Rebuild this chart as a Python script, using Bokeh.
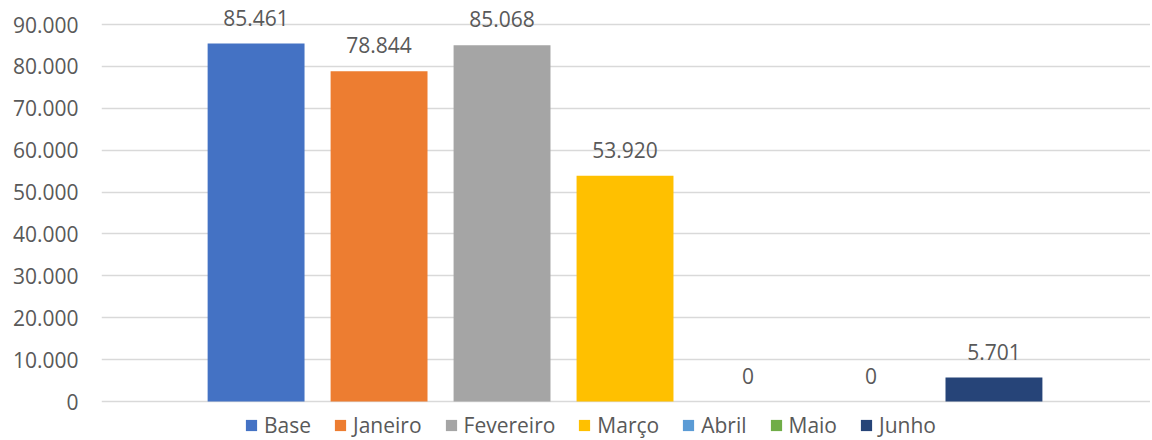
from bokeh.plotting import figure
from bokeh.models import ColumnDataSource, Range1d, FixedTicker, CustomJSTickFormatter, Legend, LegendItem
from bokeh.core.properties import value
from bokeh.embed import file_html
from bokeh.resources import INLINE

categories = ["Base", "Janeiro", "Fevereiro", "Março", "Abril", "Maio", "Junho"]
values = [85461, 78844, 85068, 53920, 0, 0, 5701]
colors = ["#4472C4", "#ED7D31", "#A5A5A5", "#FFC000", "#5B9BD5", "#70AD47", "#264478"]
y_ticks = [0, 10000, 20000, 30000, 40000, 50000, 60000, 70000, 80000, 90000]

FONT = "Open Sans"
TXT = "#595959"

labels = [f"{v:,}".replace(",", ".") for v in values]
xs = list(range(len(categories)))

src = ColumnDataSource(dict(x=xs, top=values, cat=categories, color=colors, label=labels))

p = figure(width=1150, height=440, output_backend="svg", toolbar_location=None,
           x_range=Range1d(-1.257, 7.273), y_range=Range1d(-9310, 93581),
           min_border_left=101, min_border_right=0, min_border_top=9, min_border_bottom=0)
p.outline_line_color = None

r = p.vbar(x="x", top="top", width=0.788, color="color", line_color=None, source=src)
p.text(x="x", y="top", text="label", source=src, text_align="center",
       text_baseline="alphabetic", y_offset=-26, text_font=value(FONT),
       text_font_size="21px", text_color=TXT)

p.xaxis.visible = False
p.xgrid.grid_line_color = None
p.ygrid.grid_line_color = "#d9d9d9"
p.ygrid.grid_line_width = 1.5
p.ygrid.ticker = FixedTicker(ticks=y_ticks)

ya = p.yaxis[0]
ya.ticker = FixedTicker(ticks=y_ticks)
ya.formatter = CustomJSTickFormatter(code="return tick.toFixed(0).replace(/\\B(?=(\\d{3})+(?!\\d))/g, '.');")
ya.axis_line_color = None
ya.major_tick_line_color = None
ya.minor_tick_line_color = None
ya.major_tick_out = 0
ya.major_label_standoff = 23
ya.major_label_text_font = FONT
ya.major_label_text_font_size = "21px"
ya.major_label_text_color = TXT

items = [LegendItem(label=c, renderers=[r], index=i) for i, c in enumerate(categories)]
leg = Legend(items=items, orientation="horizontal", location=(143, 1),
             padding=0, margin=0, spacing=22, glyph_width=14, glyph_height=14,
             label_standoff=6, label_text_font=FONT, label_text_font_size="21px",
             label_text_color=TXT, border_line_color=None, background_fill_alpha=0)
p.add_layout(leg, "center")

open("out.html", "w").write(file_html(p, INLINE))
